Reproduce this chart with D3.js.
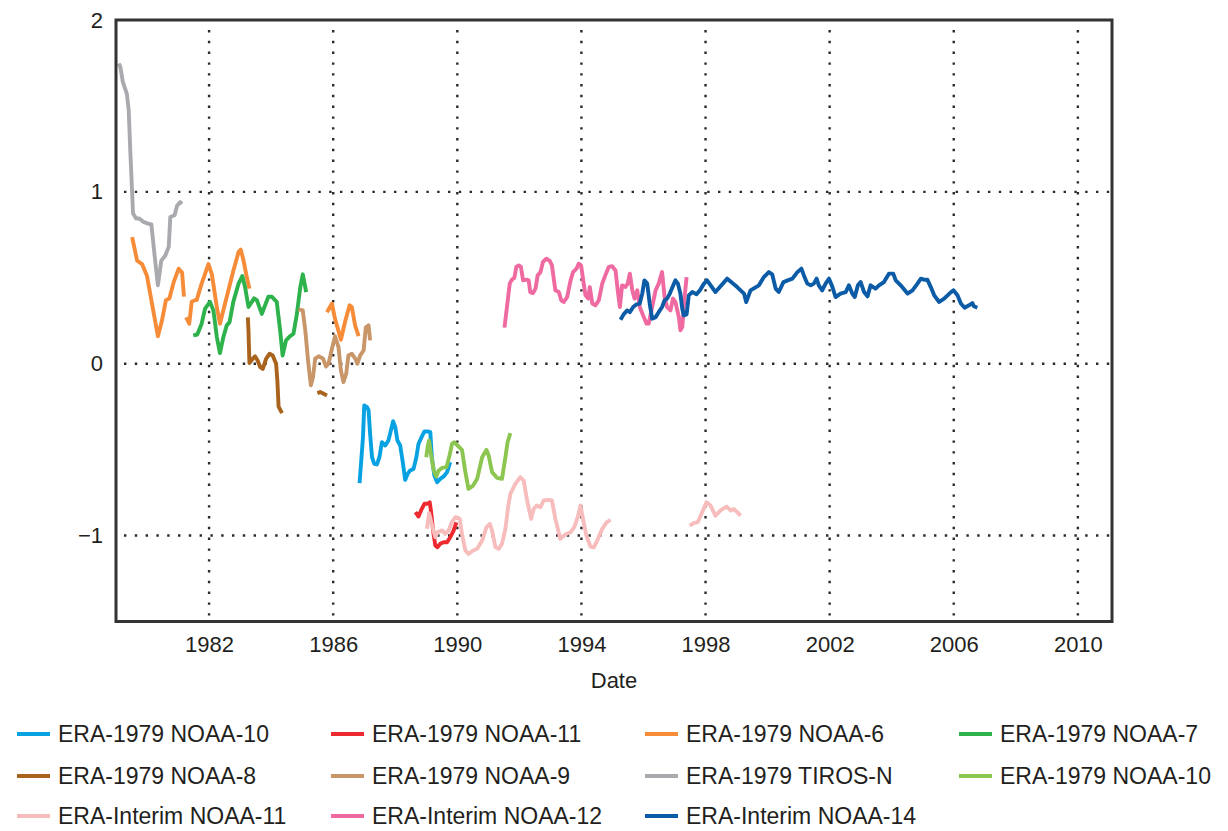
<!DOCTYPE html>
<html>
<head>
<meta charset="utf-8">
<script src="https://cdn.jsdelivr.net/npm/d3@7"></script>
<style>
  html, body { margin: 0; padding: 0; background: #ffffff; }
  svg { display: block; font-family: "Liberation Sans", Arial, sans-serif; }
</style>
</head>
<body>
<svg id="chart" width="1228" height="831"></svg>
<script>
// ---------------- DATA ----------------
const xTicks = [1982, 1986, 1990, 1994, 1998, 2002, 2006, 2010];
const yTicks = [-1, 0, 1, 2];
const xLabel = "Date";

const era1979Noaa10 = [[1986.85,-0.695],[1986.96,-0.427],[1987.0,-0.243],[1987.09,-0.253],[1987.14,-0.272],[1987.19,-0.408],[1987.25,-0.544],[1987.32,-0.582],[1987.41,-0.586],[1987.49,-0.544],[1987.57,-0.457],[1987.68,-0.476],[1987.78,-0.447],[1987.86,-0.388],[1987.93,-0.334],[1988.0,-0.369],[1988.07,-0.447],[1988.16,-0.476],[1988.25,-0.582],[1988.32,-0.676],[1988.4,-0.641],[1988.48,-0.621],[1988.59,-0.612],[1988.68,-0.544],[1988.75,-0.466],[1988.86,-0.423],[1988.94,-0.394],[1989.04,-0.394],[1989.13,-0.398],[1989.18,-0.544],[1989.26,-0.651],[1989.35,-0.69],[1989.45,-0.67],[1989.56,-0.656],[1989.67,-0.631],[1989.77,-0.573]];
const era1979Noaa11 = [[1988.65,-0.864],[1988.75,-0.889],[1988.83,-0.854],[1988.94,-0.815],[1989.04,-0.815],[1989.11,-0.806],[1989.15,-0.854],[1989.22,-0.971],[1989.29,-1.058],[1989.36,-1.068],[1989.45,-1.048],[1989.56,-1.039],[1989.67,-1.039],[1989.77,-1.01],[1989.88,-0.971],[1989.97,-0.923]];
const era1979Noaa6 = [[1979.52,0.737],[1979.68,0.60],[1979.84,0.58],[1980.0,0.51],[1980.16,0.35],[1980.35,0.16],[1980.48,0.25],[1980.61,0.37],[1980.72,0.38],[1980.86,0.475],[1981.02,0.553],[1981.13,0.53],[1981.19,0.39],null,[1981.26,0.27],[1981.36,0.233],[1981.44,0.36],[1981.55,0.37],[1981.6,0.37],[1981.76,0.466],[1981.98,0.58],[1982.09,0.52],[1982.25,0.33],[1982.35,0.233],[1982.57,0.39],[1982.78,0.54],[1982.95,0.65],[1983.02,0.664],[1983.11,0.60],[1983.22,0.50],[1983.3,0.437],null,[1985.8,0.30],[1985.96,0.35],[1986.06,0.26],[1986.25,0.14],[1986.39,0.25],[1986.53,0.34],[1986.6,0.33],[1986.71,0.22],[1986.82,0.16]];
const era1979Noaa7 = [[1981.49,0.165],[1981.62,0.17],[1981.76,0.233],[1981.87,0.32],[1982.03,0.36],[1982.14,0.31],[1982.25,0.155],[1982.35,0.062],[1982.46,0.155],[1982.57,0.223],[1982.66,0.242],[1982.78,0.36],[1982.95,0.466],[1983.07,0.51],[1983.16,0.446],[1983.27,0.33],[1983.45,0.38],[1983.54,0.37],[1983.7,0.29],[1983.91,0.39],[1984.02,0.39],[1984.18,0.36],[1984.29,0.194],[1984.37,0.048],[1984.48,0.136],[1984.61,0.16],[1984.72,0.175],[1984.83,0.29],[1984.94,0.446],[1985.02,0.52],[1985.13,0.417]];
const era1979Noaa8 = [[1983.25,0.27],[1983.27,0.19],[1983.3,0.004],[1983.41,0.03],[1983.48,0.043],[1983.56,0.02],[1983.65,-0.02],[1983.73,-0.03],[1983.84,0.03],[1983.95,0.058],[1984.05,0.048],[1984.16,0.0],[1984.2,-0.097],[1984.24,-0.25],[1984.35,-0.288],null,[1985.49,-0.171],[1985.58,-0.165],[1985.69,-0.175],[1985.8,-0.185]];
const era1979Noaa9 = [[1984.88,0.316],[1985.02,0.31],[1985.1,0.194],[1985.2,0.0],[1985.28,-0.126],[1985.35,-0.078],[1985.42,0.03],[1985.53,0.043],[1985.67,0.03],[1985.77,-0.016],[1985.85,0.0],[1985.96,0.087],[1986.06,0.16],[1986.17,0.097],[1986.25,-0.04],[1986.33,-0.107],[1986.42,-0.058],[1986.49,0.048],[1986.6,0.058],[1986.71,0.03],[1986.78,0.0],[1986.87,0.048],[1986.98,0.077],[1987.05,0.21],[1987.14,0.223],[1987.19,0.136]];
const era1979TirosN = [[1979.09,1.747],[1979.14,1.727],[1979.22,1.64],[1979.35,1.57],[1979.41,1.475],[1979.46,1.24],[1979.55,0.874],[1979.65,0.845],[1979.75,0.845],[1979.89,0.825],[1980.03,0.815],[1980.14,0.81],[1980.25,0.62],[1980.35,0.456],[1980.46,0.60],[1980.59,0.63],[1980.7,0.68],[1980.75,0.854],[1980.89,0.864],[1980.97,0.92],[1981.07,0.94],[1981.13,0.93]];
const era1979Noaa10b = [[1989.0,-0.544],[1989.04,-0.486],[1989.09,-0.447],[1989.15,-0.524],[1989.24,-0.621],[1989.32,-0.656],[1989.4,-0.621],[1989.51,-0.606],[1989.65,-0.602],[1989.75,-0.534],[1989.83,-0.466],[1989.9,-0.457],[1990.01,-0.476],[1990.15,-0.501],[1990.26,-0.631],[1990.36,-0.728],[1990.51,-0.709],[1990.64,-0.67],[1990.8,-0.544],[1990.94,-0.501],[1991.01,-0.534],[1991.12,-0.631],[1991.28,-0.664],[1991.44,-0.67],[1991.55,-0.544],[1991.62,-0.457],[1991.71,-0.404]];
const interimNoaa11 = [[1989.02,-0.96],[1989.09,-0.87],[1989.2,-0.95],[1989.29,-1.01],[1989.36,-0.98],[1989.51,-0.97],[1989.61,-0.99],[1989.72,-0.97],[1989.83,-0.92],[1989.94,-0.893],[1990.08,-0.903],[1990.15,-0.99],[1990.26,-1.087],[1990.36,-1.107],[1990.51,-1.087],[1990.64,-1.077],[1990.8,-1.029],[1990.94,-0.951],[1991.05,-0.932],[1991.12,-0.971],[1991.23,-1.068],[1991.34,-1.077],[1991.44,-1.048],[1991.55,-0.961],[1991.64,-0.83],[1991.71,-0.757],[1991.87,-0.699],[1992.03,-0.66],[1992.14,-0.68],[1992.25,-0.796],[1992.38,-0.903],[1992.46,-0.845],[1992.57,-0.825],[1992.68,-0.835],[1992.78,-0.796],[1992.95,-0.792],[1993.05,-0.796],[1993.16,-0.903],[1993.32,-1.019],[1993.48,-0.994],[1993.65,-0.981],[1993.77,-0.951],[1993.88,-0.893],[1993.97,-0.825],[1994.05,-0.903],[1994.16,-1.0],[1994.29,-1.064],[1994.4,-1.068],[1994.51,-1.029],[1994.67,-0.961],[1994.81,-0.923],[1994.94,-0.909],null,[1997.49,-0.942],[1997.62,-0.928],[1997.75,-0.922],[1997.89,-0.864],[1998.03,-0.806],[1998.16,-0.825],[1998.32,-0.884],[1998.48,-0.854],[1998.68,-0.831],[1998.81,-0.854],[1998.91,-0.845],[1999.02,-0.864],[1999.13,-0.884]];
const interimNoaa12 = [[1991.52,0.21],[1991.6,0.33],[1991.69,0.466],[1991.76,0.489],[1991.84,0.50],[1991.9,0.563],[1991.98,0.572],[1992.05,0.563],[1992.12,0.485],[1992.23,0.489],[1992.3,0.485],[1992.35,0.417],[1992.44,0.411],[1992.52,0.437],[1992.59,0.514],[1992.68,0.533],[1992.76,0.592],[1992.87,0.611],[1992.98,0.598],[1993.05,0.572],[1993.16,0.427],[1993.27,0.417],[1993.35,0.369],[1993.43,0.359],[1993.54,0.388],[1993.65,0.485],[1993.73,0.533],[1993.84,0.553],[1993.91,0.582],[1993.99,0.572],[1994.05,0.495],[1994.13,0.398],[1994.22,0.379],[1994.27,0.446],[1994.35,0.35],[1994.45,0.34],[1994.56,0.369],[1994.67,0.466],[1994.77,0.514],[1994.88,0.563],[1994.99,0.567],[1995.1,0.543],[1995.17,0.427],[1995.24,0.33],[1995.31,0.456],[1995.42,0.446],[1995.49,0.466],[1995.56,0.524],[1995.64,0.427],[1995.71,0.379],[1995.8,0.427],[1995.88,0.33],[1995.99,0.281],[1996.1,0.233],[1996.17,0.233],[1996.28,0.33],[1996.39,0.427],[1996.49,0.466],[1996.6,0.533],[1996.68,0.388],[1996.76,0.33],[1996.87,0.31],[1996.95,0.379],[1997.03,0.359],[1997.14,0.271],[1997.19,0.194],[1997.25,0.213],[1997.32,0.379],[1997.39,0.504]];
const interimNoaa14 = [[1995.26,0.256],[1995.36,0.287],[1995.47,0.31],[1995.56,0.30],[1995.67,0.33],[1995.77,0.345],[1995.88,0.35],[1995.96,0.408],[1996.03,0.485],[1996.12,0.466],[1996.2,0.35],[1996.28,0.262],[1996.39,0.271],[1996.49,0.30],[1996.6,0.33],[1996.68,0.369],[1996.76,0.379],[1996.85,0.408],[1996.96,0.456],[1997.03,0.485],[1997.11,0.466],[1997.19,0.408],[1997.25,0.32],[1997.3,0.281],[1997.39,0.287],[1997.46,0.398],[1997.57,0.417],[1997.71,0.404],[1997.82,0.427],[1997.95,0.466],[1998.05,0.485],[1998.32,0.417],[1998.7,0.495],[1999.02,0.446],[1999.24,0.408],[1999.31,0.359],[1999.45,0.427],[1999.72,0.456],[1999.88,0.504],[2000.04,0.533],[2000.15,0.52],[2000.26,0.437],[2000.36,0.417],[2000.51,0.475],[2000.65,0.485],[2000.8,0.495],[2000.96,0.533],[2001.09,0.553],[2001.17,0.514],[2001.28,0.466],[2001.39,0.456],[2001.49,0.466],[2001.58,0.495],[2001.65,0.456],[2001.76,0.427],[2001.87,0.466],[2001.98,0.495],[2002.09,0.446],[2002.19,0.388],[2002.35,0.408],[2002.52,0.417],[2002.62,0.456],[2002.73,0.408],[2002.81,0.388],[2002.91,0.456],[2003.0,0.475],[2003.11,0.417],[2003.22,0.392],[2003.32,0.456],[2003.48,0.437],[2003.59,0.456],[2003.75,0.475],[2003.91,0.524],[2004.05,0.524],[2004.13,0.485],[2004.29,0.456],[2004.51,0.408],[2004.67,0.427],[2004.83,0.466],[2004.94,0.495],[2005.04,0.489],[2005.15,0.489],[2005.26,0.446],[2005.37,0.398],[2005.53,0.359],[2005.69,0.379],[2005.86,0.408],[2005.99,0.427],[2006.12,0.398],[2006.23,0.35],[2006.35,0.326],[2006.49,0.34],[2006.6,0.353],[2006.65,0.334],[2006.76,0.326]];

const seriesNames = ["ERA-1979 NOAA-10","ERA-1979 NOAA-11","ERA-1979 NOAA-6","ERA-1979 NOAA-7","ERA-1979 NOAA-8","ERA-1979 NOAA-9","ERA-1979 TIROS-N","ERA-1979 NOAA-10","ERA-Interim NOAA-11","ERA-Interim NOAA-12","ERA-Interim NOAA-14"];
const seriesColors = ["#08a2e2","#ec2a30","#f68b38","#2db24c","#a9631c","#c99669","#a8aaad","#8cc651","#f7bdbd","#ee6aa0","#0b5ba6"];
const seriesData = [era1979Noaa10, era1979Noaa11, era1979Noaa6, era1979Noaa7, era1979Noaa8, era1979Noaa9, era1979TirosN, era1979Noaa10b, interimNoaa11, interimNoaa12, interimNoaa14];

// ---------------- CHART ----------------
const svg = d3.select("#chart");
const m = {left: 116, right: 1112, top: 20, bottom: 621.5};
const x = d3.scaleLinear().domain([1979, 2011.1]).range([m.left, m.right]);
const y = d3.scaleLinear().domain([-1.5, 2]).range([m.bottom, m.top]);

// grid
const grid = svg.append("g");
grid.selectAll("line.v").data(xTicks).join("line")
  .attr("x1", d => x(d)).attr("x2", d => x(d))
  .attr("y1", m.top + 10).attr("y2", m.bottom)
  .attr("stroke", "#2a2a2a").attr("stroke-width", 2.4)
  .attr("stroke-dasharray", "2.4,8.4");
grid.selectAll("line.h").data(yTicks.filter(d => d < 2)).join("line")
  .attr("y1", d => y(d)).attr("y2", d => y(d))
  .attr("x1", m.left + 8).attr("x2", m.right)
  .attr("stroke", "#2a2a2a").attr("stroke-width", 2.4)
  .attr("stroke-dasharray", "2.4,8.4");

// lines
const line = d3.line().defined(d => d !== null).x(d => x(d[0])).y(d => y(d[1]));
svg.append("g").selectAll("path").data(seriesData).join("path")
  .attr("d", d => line(d))
  .attr("fill", "none")
  .attr("stroke", (d, i) => seriesColors[i])
  .attr("stroke-width", 3.9)
  .attr("stroke-linejoin", "round")
  .attr("stroke-linecap", "butt");

// frame
svg.append("rect")
  .attr("x", m.left).attr("y", m.top)
  .attr("width", m.right - m.left).attr("height", m.bottom - m.top)
  .attr("fill", "none").attr("stroke", "#333").attr("stroke-width", 3);

// axes (labels only)
const fmt = d => d < 0 ? "\u2212" + Math.abs(d) : String(d);
const xAxis = d3.axisBottom(x).tickValues(xTicks).tickFormat(d => String(d)).tickSize(0).tickPadding(15);
const gx = svg.append("g").attr("transform", `translate(0,${m.bottom})`).call(xAxis);
gx.select(".domain").remove();
gx.selectAll("text").attr("font-size", 22).attr("fill", "#231f20").attr("font-family", "Liberation Sans, Arial, sans-serif");

const yAxis = d3.axisLeft(y).tickValues(yTicks).tickFormat(fmt).tickSize(0).tickPadding(13);
const gy = svg.append("g").attr("transform", `translate(${m.left},0)`).call(yAxis);
gy.select(".domain").remove();
gy.selectAll("text").attr("font-size", 22).attr("fill", "#231f20").attr("font-family", "Liberation Sans, Arial, sans-serif");

svg.append("text")
  .attr("x", (m.left + m.right) / 2).attr("y", 688)
  .attr("text-anchor", "middle")
  .attr("font-size", 22).attr("fill", "#231f20")
  .text(xLabel);

// legend
const colX = [17, 331, 645, 959];
const rowY = [734, 776, 816];
const leg = svg.append("g");
seriesNames.forEach((name, i) => {
  const cx = colX[i % 4], cy = rowY[Math.floor(i / 4)];
  const g = leg.append("g");
  g.append("line").attr("x1", cx).attr("x2", cx + 33).attr("y1", cy).attr("y2", cy)
    .attr("stroke", seriesColors[i]).attr("stroke-width", 4);
  g.append("text").attr("x", cx + 41).attr("y", cy + 8)
    .attr("font-size", 23).attr("fill", "#231f20").text(name);
});
</script>
</body>
</html>
